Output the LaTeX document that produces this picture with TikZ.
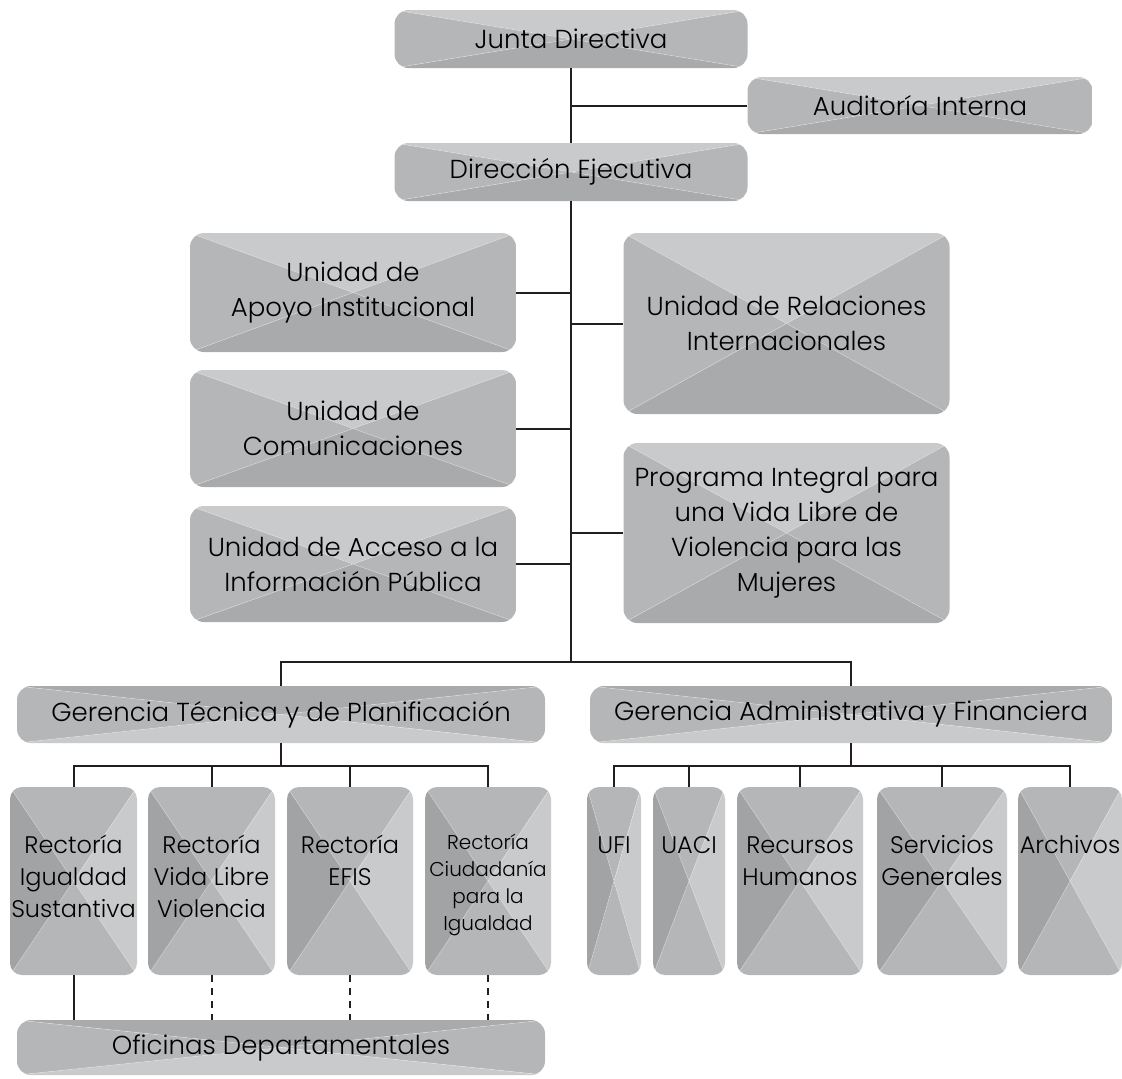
\documentclass[tikz,border=0pt]{standalone}
\usepackage{fontspec}
\setmainfont{Poppins}[UprightFont=* Light]
\usepackage{xcolor}
\usepackage{tikz}

\definecolor{boxLt}{HTML}{C9CACC}
\definecolor{boxMd}{HTML}{B5B6B8}
\definecolor{boxDk}{HTML}{A9AAAC}
\definecolor{boxDr}{HTML}{A2A3A5}
\definecolor{lineC}{HTML}{231F20}

% text block pinned to the top of a tall box
\newcommand{\tallcell}[3][22pt]{\parbox[c][94pt][t]{#2}{\centering\vspace*{#1}\strut#3}}

\tikzset{
  xshade/.style n args={4}{path picture={
      \begin{scope}[sharp corners]
      \fill[#1] (path picture bounding box.north west) -- (path picture bounding box.north east)
        -- (path picture bounding box.center) -- cycle;
      \fill[#2] (path picture bounding box.north east) -- (path picture bounding box.south east)
        -- (path picture bounding box.center) -- cycle;
      \fill[#3] (path picture bounding box.south east) -- (path picture bounding box.south west)
        -- (path picture bounding box.center) -- cycle;
      \fill[#4] (path picture bounding box.south west) -- (path picture bounding box.north west)
        -- (path picture bounding box.center) -- cycle;
      \draw[white, opacity=.35, line width=.3pt]
        (path picture bounding box.north west) -- (path picture bounding box.south east)
        (path picture bounding box.north east) -- (path picture bounding box.south west);
      \end{scope}
  }},
  orgbox/.style={rounded corners=7pt, inner sep=0pt, align=center, text=black},
  headbox/.style={orgbox, minimum width=176.5pt, minimum height=29pt,
    font=\fontsize{13}{17.5}\selectfont, xshade={boxLt}{boxMd}{boxDk}{boxMd}},
  unitbox/.style={orgbox, minimum width=163pt,
    font=\fontsize{13}{17.5}\selectfont, xshade={boxLt}{boxMd}{boxDk}{boxMd}},
  mgmtbox/.style={orgbox, minimum width=264pt, minimum height=28.5pt,
    font=\fontsize{13}{17.5}\selectfont, xshade={boxDk}{boxMd}{boxLt}{boxMd}},
  tallbox/.style={orgbox, rounded corners=6pt,
    font=\fontsize{12}{16}\selectfont, xshade={boxMd}{boxLt}{boxMd}{boxDr}},
  orgline/.style={draw=lineC, line width=1pt},
  dotline/.style={orgline, dash pattern=on 3.5pt off 3pt},
}

\begin{document}
\begin{tikzpicture}[x=0.5pt, y=-0.5pt]

\useasboundingbox (0,0) rectangle (1122,1078);

%% --- top level ---
\node[headbox] (junta) at (571,39) {Junta Directiva};
\node[headbox, minimum width=172.5pt, minimum height=28.5pt] (audit) at (920,105.5) {Auditoría Interna};
\node[headbox] (direc) at (571,172) {Dirección Ejecutiva};

%% --- staff units ---
\node[unitbox, minimum height=59.5pt] (apoyo)  at (353,292.5) {Unidad de\\Apoyo Institucional};
\node[unitbox, minimum height=58.5pt] (comun)  at (353,428.5) {Unidad de\\Comunicaciones};
\node[unitbox, minimum height=58pt]   (acceso) at (353,564)   {Unidad de Acceso a la\\Información Pública};
\node[unitbox, minimum height=90.5pt] (relac)  at (786.5,323.5) {Unidad de Relaciones\\Internacionales};
\node[unitbox, minimum height=90pt]   (prog)   at (786.5,533)   {Programa Integral para\\una Vida Libre de\\Violencia para las\\Mujeres};

%% --- gerencias ---
\node[mgmtbox] (gtec) at (281,714.5) {Gerencia Técnica y de Planificación};
\node[mgmtbox, minimum width=261pt] (gadm) at (851,714.5) {Gerencia Administrativa y Financiera};

%% --- rectorías ---
\node[tallbox] (rig)   at (73.5,881)  {\tallcell{63.5pt}{Rectoría\\Igualdad\\Sustantiva}};
\node[tallbox] (rvl)   at (211.5,881) {\tallcell{63.5pt}{Rectoría\\Vida Libre\\Violencia}};
\node[tallbox] (refis) at (350,881)   {\tallcell{63pt}{Rectoría\\EFIS}};
\node[tallbox, font=\fontsize{10}{13.5}\selectfont] (rciu) at (488,881)
  {\tallcell{63pt}{Rectoría\\Ciudadanía\\para la\\Igualdad}};

%% --- administrative units ---
\node[tallbox] (ufi)  at (614,881)  {\tallcell{27pt}{UFI}};
\node[tallbox] (uaci) at (689,881)  {\tallcell{36pt}{UACI}};
\node[tallbox] (rrhh) at (800,881)  {\tallcell{63pt}{Recursos\\Humanos}};
\node[tallbox] (sgen) at (942,881)  {\tallcell{65pt}{Servicios\\Generales}};
\node[tallbox] (arch) at (1070,881) {\tallcell{52pt}{Archivos}};

%% --- offices ---
\node[mgmtbox, minimum height=27.5pt] (ofic) at (281,1047.5) {Oficinas Departamentales};

%% --- connectors ---
\coordinate (bus)   at (571,662);
\coordinate (gtbus) at (281,766);
\coordinate (gabus) at (851,766);

\draw[orgline] (junta.south) -- (direc.north);
\draw[orgline] (audit.west -| junta.south) -- (audit.west);
\draw[orgline] (direc.south) -- (bus);
\foreach \u in {apoyo,comun,acceso}
  \draw[orgline] (\u.east) -- (\u.east -| bus);
\foreach \u in {relac,prog}
  \draw[orgline] (\u.west) -- (\u.west -| bus);
\draw[orgline] (gtec.north) -- (gtec.north |- bus) -- (gadm.north |- bus) -- (gadm.north);

\draw[orgline] (gtec.south) -- (gtbus);
\draw[orgline] (rig.north) -- (rig.north |- gtbus) -- (rciu.north |- gtbus) -- (rciu.north);
\foreach \r in {rvl,refis}
  \draw[orgline] (\r.north) -- (\r.north |- gtbus);

\draw[orgline] (gadm.south) -- (gabus);
\draw[orgline] (ufi.north) -- (ufi.north |- gabus) -- (arch.north |- gabus) -- (arch.north);
\foreach \r in {uaci,rrhh,sgen}
  \draw[orgline] (\r.north) -- (\r.north |- gabus);

\draw[orgline] (rig.south) -- (rig.south |- ofic.north);
\foreach \r in {rvl,refis,rciu}
  \draw[dotline] (\r.south) -- (\r.south |- ofic.north);

\end{tikzpicture}
\end{document}
